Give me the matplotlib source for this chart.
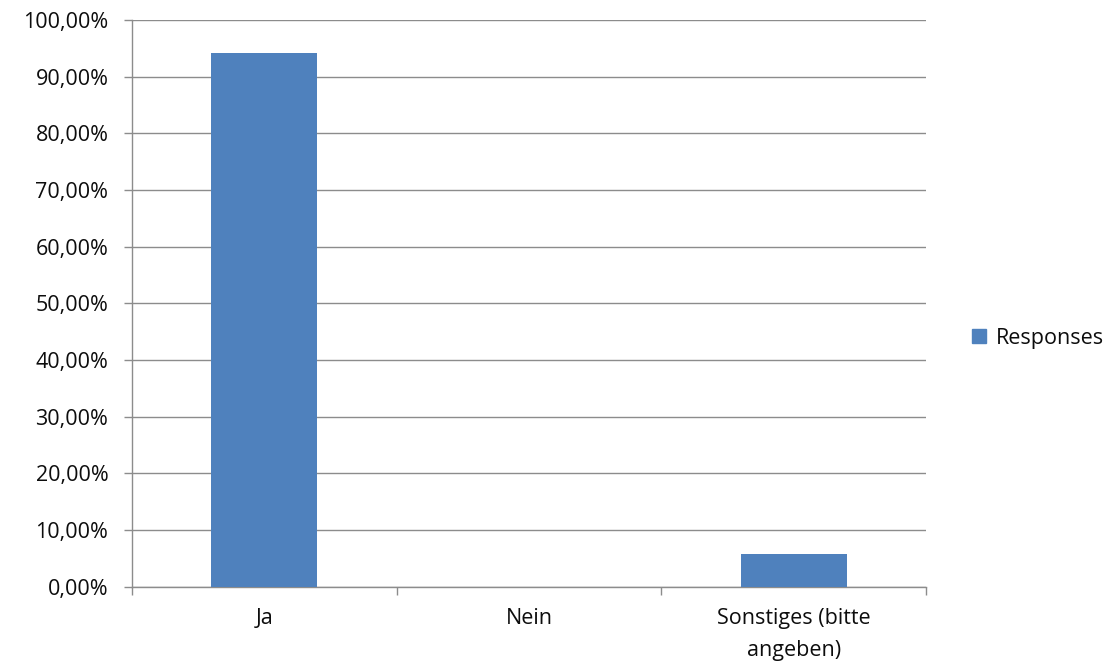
import numpy as np
import matplotlib.pyplot as plt
from matplotlib.ticker import MultipleLocator, FuncFormatter
from matplotlib.patches import Patch

categories = ["Ja", "Nein", "Sonstiges (bitte\nangeben)"]
responses = [94.23, 0.0, 5.77]
series_name = "Responses"

plt.rcParams['font.family'] = ['Open Sans', 'DejaVu Sans']

fig = plt.figure(figsize=(11.08, 6.68), dpi=100)
ax = fig.add_axes([132/1108, 1-586.7/668, (926-132)/1108, (586.7-20)/668])

x = np.arange(len(categories))
ax.bar(x, responses, width=0.4, color="#4f81bd", zorder=3)

ax.set_xlim(-0.5, len(categories)-0.5)
ax.set_ylim(0, 100)
ax.yaxis.set_major_locator(MultipleLocator(10))
ax.yaxis.set_major_formatter(FuncFormatter(lambda v, p: f"{v:.2f}%".replace(".", ",")))
ax.grid(axis="y", color="#8c8c8c", lw=1, zorder=0)

ax.set_xticks(x)
ax.set_xticklabels(categories, fontsize=15.5, color="#0d0d0d")
for lbl in ax.get_xticklabels():
    lbl.set_linespacing(1.7)
ax.set_xticks(np.arange(-0.5, len(categories)), minor=True)
ax.tick_params(axis="x", which="major", length=0, pad=15)
ax.tick_params(axis="x", which="minor", length=6, color="#8c8c8c", width=1)
ax.tick_params(axis="y", length=6, color="#8c8c8c", width=1, labelsize=15.5, labelcolor="#0d0d0d", pad=11)

for s in ["top", "right"]:
    ax.spines[s].set_visible(False)
for s in ["left", "bottom"]:
    ax.spines[s].set_color("#8c8c8c")
    ax.spines[s].set_linewidth(1)

handles = [Patch(color="#4f81bd", label=series_name)]
fig.legend(handles=handles, loc="center left", bbox_to_anchor=(953/1108, 1-338/668),
           frameon=False, fontsize=15.5, handlelength=0.65, handleheight=0.65, handletextpad=0.42,
           labelcolor="#0d0d0d")

fig.savefig("out.png", dpi=100)
